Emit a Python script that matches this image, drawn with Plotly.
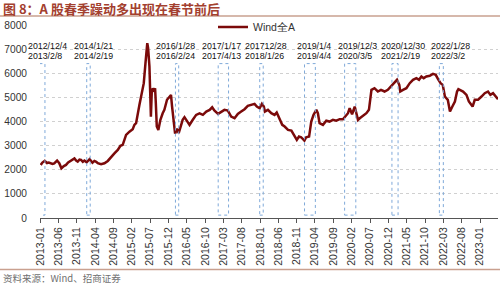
import plotly.graph_objects as go

# ---------------- data ----------------
dates = [
    "2013-01-04","2013-01-18","2013-02-06","2013-02-25","2013-03-12","2013-04-12","2013-04-26","2013-05-20",
    "2013-06-07","2013-06-25","2013-07-15","2013-08-02","2013-08-20","2013-09-13","2013-10-11","2013-10-25",
    "2013-11-07","2013-11-22","2013-12-05","2013-12-20","2014-01-02","2014-01-20","2014-02-14","2014-03-10",
    "2014-03-26","2014-04-10","2014-04-23","2014-05-20","2014-06-17","2014-07-15","2014-08-11","2014-09-08",
    "2014-10-06","2014-10-28","2014-11-16","2014-11-30","2014-12-14","2015-01-11","2015-02-07","2015-02-21",
    "2015-03-07","2015-04-04","2015-04-23","2015-05-10","2015-05-24","2015-06-08","2015-06-15","2015-06-26",
    "2015-07-02","2015-07-08","2015-07-15","2015-07-24","2015-08-01","2015-08-12","2015-08-18","2015-08-26",
    "2015-09-08","2015-09-25","2015-10-14","2015-10-28","2015-11-19","2015-12-08","2015-12-22","2015-12-31",
    "2016-01-13","2016-01-25","2016-02-10","2016-02-24","2016-03-15","2016-03-28","2016-04-12","2016-05-03",
    "2016-05-24","2016-06-20","2016-07-18","2016-08-15","2016-09-12","2016-10-10","2016-11-07","2016-11-28",
    "2016-12-16","2017-01-16","2017-02-13","2017-03-10","2017-04-07","2017-05-05","2017-06-02","2017-06-29",
    "2017-07-27","2017-08-24","2017-09-20","2017-10-19","2017-11-15","2017-12-04","2017-12-27","2018-01-15",
    "2018-01-31","2018-02-09","2018-03-06","2018-04-03","2018-04-30","2018-05-18","2018-06-11","2018-07-03",
    "2018-07-23","2018-08-20","2018-09-17","2018-10-12","2018-11-01","2018-11-19","2018-12-07","2019-01-03",
    "2019-01-18","2019-02-11","2019-03-01","2019-03-20","2019-04-12","2019-04-25","2019-05-09","2019-06-06",
    "2019-07-04","2019-07-31","2019-08-28","2019-09-25","2019-10-23","2019-11-19","2019-12-11","2019-12-31",
    "2020-01-14","2020-02-03","2020-02-25","2020-03-23","2020-04-07","2020-05-06","2020-06-01","2020-06-22",
    "2020-07-03","2020-07-13","2020-08-07","2020-09-04","2020-09-30","2020-10-30","2020-11-26","2020-12-24",
    "2021-01-13","2021-02-10","2021-03-01","2021-03-09","2021-04-01","2021-04-29","2021-05-27","2021-06-23",
    "2021-07-21","2021-08-12","2021-09-01","2021-09-20","2021-10-12","2021-11-09","2021-12-06","2021-12-29",
    "2022-01-17","2022-02-07","2022-02-25","2022-03-15","2022-04-08","2022-04-26","2022-05-16","2022-06-06",
    "2022-06-24","2022-07-05","2022-08-13","2022-09-10","2022-09-30","2022-10-31","2022-11-18","2022-12-15",
    "2023-01-13","2023-02-09","2023-03-08","2023-03-28","2023-04-19","2023-05-11","2023-05-30",
]
wind_all_a = [
    2200,2300,2370,2280,2300,2240,2260,2380,
    2270,2060,2150,2200,2300,2380,2470,2380,
    2340,2420,2410,2330,2380,2310,2440,2290,
    2365,2330,2270,2230,2270,2365,2545,2680,
    2820,2990,3030,3240,3445,3580,3680,3860,
    3930,4690,5240,5590,6420,7250,7040,6280,
    5240,4200,5170,5380,5240,5380,4760,3790,
    3650,4070,4340,4480,4900,5035,5100,4620,
    3900,3500,3700,3520,3850,4070,4180,4000,
    3860,4070,4275,4340,4275,4410,4480,4590,
    4455,4316,4413,4482,4455,4205,4136,4316,
    4413,4510,4648,4690,4731,4620,4551,4731,
    4620,4413,4482,4343,4275,4371,4136,3860,
    3790,3652,3624,3403,3237,3375,3348,3209,
    3348,3375,3998,4275,4482,4343,3929,3860,
    4033,3998,4067,4033,4095,4095,4205,4343,
    4551,4300,4620,4067,4136,4233,4343,4482,
    4897,5312,5381,5243,5312,5243,5312,5450,
    5589,5727,5520,5243,5312,5381,5589,5727,
    5797,5727,5866,5797,5866,5893,5976,5935,
    5755,5589,5520,5035,4897,4413,4620,4828,
    5243,5340,5243,5104,4828,4620,4897,4897,
    5035,5174,5243,5104,5174,5035,4925,
]
series_name = "Wind全A"

# spring-rally windows
window_start = ["2012-12-04","2014-01-21","2016-01-28","2017-01-17","2017-12-28",
                "2019-01-04","2019-12-03","2020-12-30","2022-01-28"]
window_end = ["2013-02-08","2014-02-19","2016-02-24","2017-04-13","2018-01-26",
              "2019-04-04","2020-03-05","2021-02-19","2022-03-02"]
label_start = ["2012/12/4","2014/1/21","2016/1/28","2017/1/17","201712/28",
               "2019/1/4","2019/12/3","2020/12/30","2022/1/28"]
label_end = ["2013/2/8","2014/2/19","2016/2/24","2017/4/13","2018/1/26",
             "2019/4/4","2020/3/5","2021/2/19","2022/3/2"]
# horizontal offset (px) of each label's left edge from its window's end date
label_shift = [-19, -18, -25, -29, -20, -20, -20, -19, -14]
window_low, window_high = 120, 6400

y_ticks = [0, 1000, 2000, 3000, 4000, 5000, 6000, 7000, 8000]

# ---------------- figure ----------------
W, H = 500, 285
ML, MR, MT, MB = 40, 2, 25, 67
PW, PH = W - ML - MR, H - MT - MB

def px_x(p):
    return (p - ML) / PW

def px_y(p):
    return (H - MB - p) / PH

fig = go.Figure()
fig.add_trace(go.Scatter(
    x=dates, y=wind_all_a, mode="lines", name=series_name,
    line=dict(color="#7B0A0A", width=2.5), showlegend=True,
))

shapes = []
for s, e in zip(window_start, window_end):
    shapes.append(dict(type="rect", xref="x", yref="y", x0=s, x1=e,
                       y0=window_low, y1=window_high,
                       line=dict(color="#7FA9D9", width=1, dash="dot"),
                       fillcolor="rgba(0,0,0,0)", layer="above"))
# title underline and footer line
shapes.append(dict(type="line", xref="paper", yref="paper", x0=px_x(0), x1=px_x(500),
                   y0=px_y(16), y1=px_y(16), line=dict(color="#C9A08F", width=1.5)))
shapes.append(dict(type="line", xref="paper", yref="paper", x0=px_x(0), x1=px_x(500),
                   y0=px_y(269.5), y1=px_y(269.5), line=dict(color="#C9A08F", width=1.5)))

annotations = []
lab_font = dict(family="Liberation Sans, Arial, sans-serif", size=8.8, color="#111")
for e, l1, l2, sh in zip(window_end, label_start, label_end, label_shift):
    annotations.append(dict(x=e, y=px_y(45.5), xref="x", yref="paper", text=l1,
                            showarrow=False, xanchor="left", yanchor="middle",
                            xshift=sh, font=lab_font))
    annotations.append(dict(x=e, y=px_y(56), xref="x", yref="paper", text=l2,
                            showarrow=False, xanchor="left", yanchor="middle",
                            xshift=sh, font=lab_font))
annotations.append(dict(x=px_x(1), y=px_y(8.5), xref="paper", yref="paper",
                        text="<b>图 8：A 股春季躁动多出现在春节前后</b>", showarrow=False,
                        xanchor="left", yanchor="middle",
                        font=dict(family="Noto Sans CJK SC", size=13, color="#A3402F")))
annotations.append(dict(x=px_x(1), y=px_y(277.5), xref="paper", yref="paper",
                        text="资料来源：Wind、招商证券", showarrow=False,
                        xanchor="left", yanchor="middle",
                        font=dict(family="Noto Sans CJK SC", size=9.5, color="#6f6f6f")))

fig.update_layout(
    width=W, height=H,
    margin=dict(l=ML, r=MR, t=MT, b=MB, pad=0),
    paper_bgcolor="white", plot_bgcolor="white",
    shapes=shapes, annotations=annotations,
    showlegend=True,
    legend=dict(x=px_x(213), y=px_y(27), xanchor="left", yanchor="middle",
                bgcolor="rgba(0,0,0,0)", borderwidth=0, itemwidth=30,
                font=dict(family="Liberation Sans, Arial, sans-serif", size=10.5, color="#333")),
    xaxis=dict(type="date", range=["2012-12-29", "2023-05-30"],
               tick0="2013-01-01", dtick="M5", tickformat="%Y-%m", tickangle=-90,
               ticks="outside", ticklen=4, tickcolor="#555", showline=True,
               linecolor="#555", linewidth=1, showgrid=False, zeroline=False,
               tickfont=dict(family="Liberation Sans, Arial, sans-serif", size=10.5, color="#333")),
    yaxis=dict(range=[0, 8000], tickvals=y_ticks, showgrid=True, gridcolor="#D0D0D0",
               griddash="dot", gridwidth=1, showline=False, zeroline=False,
               ticks="", ticklabelstandoff=12,
               tickfont=dict(family="Liberation Sans, Arial, sans-serif", size=10.2, color="#333")),
)

fig.write_html("out.html")
